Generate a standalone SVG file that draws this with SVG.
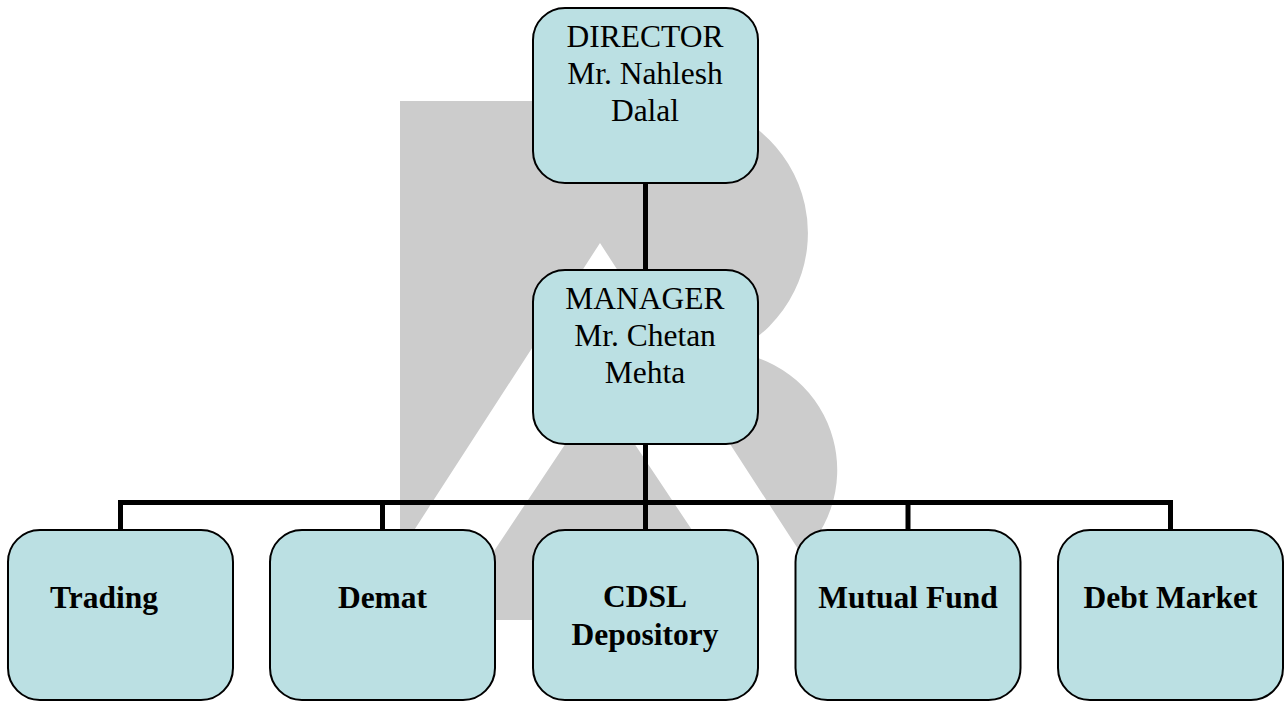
<svg xmlns="http://www.w3.org/2000/svg" width="1288" height="702" viewBox="0 0 1288 702">
<style>
.box{fill:#bbe0e3;stroke:#000;stroke-width:2}
.t{font-family:"Liberation Serif","Times New Roman",serif;font-size:31.5px;fill:#000;text-anchor:middle}
.b{font-weight:bold}
.c{stroke:#000;stroke-width:5;fill:none;stroke-linecap:butt}
</style>
<rect width="1288" height="702" fill="#fff"/>
<g id="watermark">
<path d="M400,101 H678 A132,132 0 0 1 733,352 A119,119 0 0 1 790,565 L800,620 L400,620 Z" fill="#cccccc"/>
<path d="M600,243 L844,620 L356,620 Z M600,392 L448,620 L752,620 Z" fill="#fff" fill-rule="evenodd"/>
</g>
<g id="connectors">
<line class="c" x1="645.5" y1="183" x2="645.5" y2="270"/>
<line class="c" x1="645.5" y1="444" x2="645.5" y2="503"/>
<polyline class="c" points="120.5,530 120.5,502.5 1170.5,502.5 1170.5,530"/>
<line class="c" x1="382.5" y1="502.5" x2="382.5" y2="530"/>
<line class="c" x1="645.5" y1="502.5" x2="645.5" y2="530"/>
<line class="c" x1="908" y1="502.5" x2="908" y2="530"/>
</g>
<g id="director">
<rect class="box" x="533" y="8" width="225" height="175" rx="32"/>
<text class="t" x="645" y="47">DIRECTOR</text>
<text class="t" x="645" y="84">Mr. Nahlesh</text>
<text class="t" x="645" y="121">Dalal</text>
</g>
<g id="manager">
<rect class="box" x="533" y="270" width="225" height="174" rx="32"/>
<text class="t" x="645" y="309">MANAGER</text>
<text class="t" x="645" y="346">Mr. Chetan</text>
<text class="t" x="645" y="383">Mehta</text>
</g>
<g id="trading">
<rect class="box" x="8" y="530" width="225" height="170" rx="32"/>
<text class="t b" x="104" y="608">Trading</text>
</g>
<g id="demat">
<rect class="box" x="270" y="530" width="225" height="170" rx="32"/>
<text class="t b" x="382.5" y="608">Demat</text>
</g>
<g id="cdsl">
<rect class="box" x="533" y="530" width="225" height="170" rx="32"/>
<text class="t b" x="645" y="607">CDSL</text>
<text class="t b" x="645" y="645">Depository</text>
</g>
<g id="mutual-fund">
<rect class="box" x="795.5" y="530" width="225" height="170" rx="32"/>
<text class="t b" x="908" y="608">Mutual Fund</text>
</g>
<g id="debt-market">
<rect class="box" x="1058" y="530" width="225" height="170" rx="32"/>
<text class="t b" x="1170.5" y="608">Debt Market</text>
</g>
</svg>
